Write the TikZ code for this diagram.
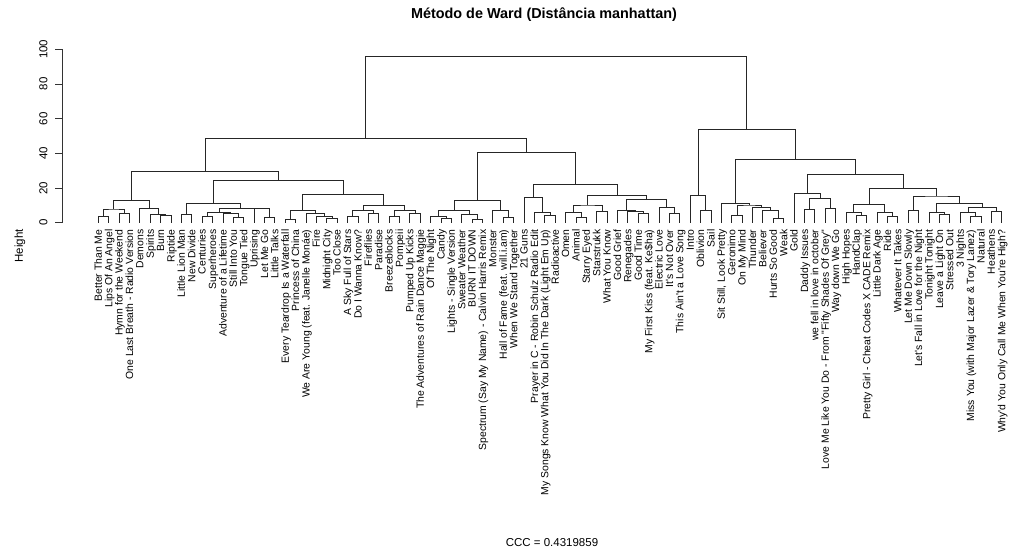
\documentclass[tikz,border=0pt]{standalone}
\usepackage{fontspec}
\setmainfont{Liberation Sans}
\newfontfamily\rfont{Liberation Sans}
\usetikzlibrary{calc}

\newcommand{\mergeat}[4]{%
  \coordinate (mid) at ($(#2)!0.5!(#3)$);
  \coordinate (#1) at (mid |- 0,#4);
  \draw[branch] (#2) |- (#1) -| (#3);
}

\begin{document}
\begin{tikzpicture}[x=1pt,y=1pt,
    branch/.style={line width=0.8pt,black!85},
    axisline/.style={line width=0.8pt,black!80},
    leaf/.style={rotate=90,anchor=east,inner sep=0pt,text height=0.72em,text depth=0pt,font=\rfont\fontsize{10.4}{11}\selectfont},
    ticklab/.style={rotate=90,inner sep=0pt,font=\rfont\fontsize{11.5}{13}\selectfont},
    axislab/.style={rotate=90,inner sep=0pt,font=\rfont\fontsize{11.5}{13}\selectfont},
    titlelab/.style={inner sep=0pt,font=\rfont\bfseries\fontsize{14.4}{17}\selectfont},
    sublab/.style={inner sep=0pt,font=\rfont\fontsize{11.5}{13}\selectfont}]
  \useasboundingbox (0,0) rectangle (1009,554);
  \node[titlelab] (title) at (544,539) {Método de Ward (Distância manhattan)};
  \node[axislab] (ylab) at (20,308) {Height};
  \node[sublab] (ccc) at (552,11) {CCC = 0.4319859};
  \begin{scope}[shift={(87.916pt,331.3pt)},x=10.384pt,y=1.734pt]
    \draw[axisline] (-2.467,0) -- (-2.467,100);
    \foreach \t in {0,20,...,100}{
      \draw[axisline] (-2.467,\t) -- ++(-7pt,0);
      \node[ticklab] (tick\t) at ([xshift=-19pt]-2.467,\t) {\t};
    }
    \foreach \lab [count=\i] in {{Better Than Me},{Lips Of An Angel},{Hymn for the Weekend},
      {One Last Breath - Radio Version},{Demons},{Spirits},{Burn},{Riptide},{Little Lion Man},
      {New Divide},{Centuries},{Superheroes},{Adventure of a Lifetime},{Still Into You},
      {Tongue Tied},{Uprising},{Let Me Go},{Little Talks},{Every Teardrop Is a Waterfall},
      {Princess of China},{We Are Young (feat. Janelle Monáe)},{Fire},{Midnight City},
      {Too Close},{A Sky Full of Stars},{Do I Wanna Know?},{Fireflies},{Paradise},
      {Breezeblocks},{Pompeii},{Pumped Up Kicks},{The Adventures of Rain Dance Maggie},
      {Of The Night},{Candy},{Lights - Single Version},{Sweater Weather},{BURN IT DOWN},
      {Spectrum (Say My Name) - Calvin Harris Remix},{Monster},{Hall of Fame (feat. will.i.am)},
      {When We Stand Together},{21 Guns},{Prayer in C - Robin Schulz Radio Edit},
      {My Songs Know What You Did In The Dark (Light Em Up)},{Radioactive},{Omen},{Animal},
      {Starry Eyed},{Starstrukk},{What You Know},{Good Grief},{Renegades},{Good Time},
      {My First Kiss (feat. Ke\$ha)},{Electric Love},{It's Not Over},{This Ain't a Love Song},
      {Intro},{Oblivion},{Sail},{Sit Still, Look Pretty},{Geronimo},{On My Mind},{Thunder},
      {Believer},{Hurts So Good},{Weak},{Gold},{Daddy Issues},{we fell in love in october},
      {Love Me Like You Do - From "Fifty Shades Of Grey"},{Way down We Go},{High Hopes},
      {HandClap},{Pretty Girl - Cheat Codes X CADE Remix},{Little Dark Age},{Ride},
      {Whatever It Takes},{Let Me Down Slowly},{Let's Fall in Love for the Night},
      {Tonight Tonight},{Leave a Light On},{Stressed Out},{3 Nights},
      {Miss You (with Major Lazer \& Tory Lanez)},{Natural},{Heathens},
      {Why'd You Only Call Me When You're High?}}{
      \coordinate (l\i) at (\i,0);
      \node[leaf] (lab\i) at (\i,-3.9) {\lab};
    }
    \mergeat{g1t2}{l1}{l2}{3.5}
    \mergeat{g3t4}{l3}{l4}{5.4}
    \mergeat{g1t4}{g1t2}{g3t4}{7.9}
    \mergeat{g7t8}{l7}{l8}{4.0}
    \mergeat{g6t8}{l6}{g7t8}{4.8}
    \mergeat{g5t8}{l5}{g6t8}{8.2}
    \mergeat{g1t8}{g1t4}{g5t8}{13.1}
    \mergeat{g9t10}{l9}{l10}{4.8}
    \mergeat{g11t12}{l11}{l12}{3.7}
    \mergeat{g14t15}{l14}{l15}{3.3}
    \mergeat{g13t15}{l13}{g14t15}{5.4}
    \mergeat{g11t15}{g11t12}{g13t15}{6.0}
    \mergeat{g17t18}{l17}{l18}{3.1}
    \mergeat{g16t18}{l16}{g17t18}{8.2}
    \mergeat{g11t18}{g11t15}{g16t18}{8.4}
    \mergeat{g9t18}{g9t10}{g11t18}{11.2}
    \mergeat{g19t20}{l19}{l20}{2.0}
    \mergeat{g23t24}{l23}{l24}{2.5}
    \mergeat{g22t24}{l22}{g23t24}{3.8}
    \mergeat{g21t24}{l21}{g22t24}{5.4}
    \mergeat{g19t24}{g19t20}{g21t24}{6.9}
    \mergeat{g25t26}{l25}{l26}{3.9}
    \mergeat{g27t28}{l27}{l28}{5.4}
    \mergeat{g25t28}{g25t26}{g27t28}{6.9}
    \mergeat{g29t30}{l29}{l30}{3.9}
    \mergeat{g31t32}{l31}{l32}{5.6}
    \mergeat{g29t32}{g29t30}{g31t32}{7.1}
    \mergeat{g25t32}{g25t28}{g29t32}{9.8}
    \mergeat{g19t32}{g19t24}{g25t32}{16.4}
    \mergeat{g9t32}{g9t18}{g19t32}{24.4}
    \mergeat{g1t32}{g1t8}{g9t32}{29.6}
    \mergeat{g34t35}{l34}{l35}{2.5}
    \mergeat{g33t35}{l33}{g34t35}{3.5}
    \mergeat{g37t38}{l37}{l38}{2.0}
    \mergeat{g36t38}{l36}{g37t38}{4.8}
    \mergeat{g33t38}{g33t35}{g36t38}{6.9}
    \mergeat{g40t41}{l40}{l41}{3.1}
    \mergeat{g39t41}{l39}{g40t41}{7.3}
    \mergeat{g33t41}{g33t38}{g39t41}{12.7}
    \mergeat{g44t45}{l44}{l45}{4.4}
    \mergeat{g43t45}{l43}{g44t45}{6.0}
    \mergeat{g42t45}{l42}{g43t45}{14.6}
    \mergeat{g47t48}{l47}{l48}{3.1}
    \mergeat{g46t48}{l46}{g47t48}{6.0}
    \mergeat{g49t50}{l49}{l50}{6.4}
    \mergeat{g46t50}{g46t48}{g49t50}{10.2}
    \mergeat{g53t54}{l53}{l54}{5.4}
    \mergeat{g52t54}{l52}{g53t54}{6.4}
    \mergeat{g51t54}{l51}{g52t54}{6.9}
    \mergeat{g56t57}{l56}{l57}{5.4}
    \mergeat{g55t57}{l55}{g56t57}{8.7}
    \mergeat{g51t57}{g51t54}{g55t57}{13.5}
    \mergeat{g46t57}{g46t50}{g51t57}{15.8}
    \mergeat{g42t57}{g42t45}{g46t57}{22.3}
    \mergeat{g33t57}{g33t41}{g42t57}{40.6}
    \mergeat{g1t57}{g1t32}{g33t57}{48.6}
    \mergeat{g59t60}{l59}{l60}{7.3}
    \mergeat{g58t60}{l58}{g59t60}{15.5}
    \mergeat{g62t63}{l62}{l63}{4.4}
    \mergeat{g66t67}{l66}{l67}{2.5}
    \mergeat{g65t67}{l65}{g66t67}{6.9}
    \mergeat{g64t67}{l64}{g65t67}{8.9}
    \mergeat{g62t67}{g62t63}{g64t67}{10.2}
    \mergeat{g61t67}{l61}{g62t67}{11.2}
    \mergeat{g69t70}{l69}{l70}{7.7}
    \mergeat{g71t72}{l71}{l72}{8.3}
    \mergeat{g69t72}{g69t70}{g71t72}{13.9}
    \mergeat{g68t72}{l68}{g69t72}{17.1}
    \mergeat{g74t75}{l74}{l75}{4.1}
    \mergeat{g73t75}{l73}{g74t75}{5.8}
    \mergeat{g77t78}{l77}{l78}{3.5}
    \mergeat{g76t78}{l76}{g77t78}{6.0}
    \mergeat{g73t78}{g73t75}{g76t78}{10.8}
    \mergeat{g79t80}{l79}{l80}{6.9}
    \mergeat{g82t83}{l82}{l83}{4.8}
    \mergeat{g81t83}{l81}{g82t83}{5.8}
    \mergeat{g85t86}{l85}{l86}{3.9}
    \mergeat{g84t86}{l84}{g85t86}{5.8}
    \mergeat{g87t88}{l87}{l88}{6.4}
    \mergeat{g84t88}{g84t86}{g87t88}{8.9}
    \mergeat{g81t88}{g81t83}{g84t88}{11.2}
    \mergeat{g79t88}{g79t80}{g81t88}{15.4}
    \mergeat{g73t88}{g73t78}{g79t88}{19.8}
    \mergeat{g68t88}{g68t72}{g73t88}{27.7}
    \mergeat{g61t88}{g61t67}{g68t88}{36.5}
    \mergeat{g58t88}{g58t60}{g61t88}{53.9}
    \mergeat{g1t88}{g1t57}{g58t88}{96.0}
  \end{scope}
\end{tikzpicture}
\end{document}
